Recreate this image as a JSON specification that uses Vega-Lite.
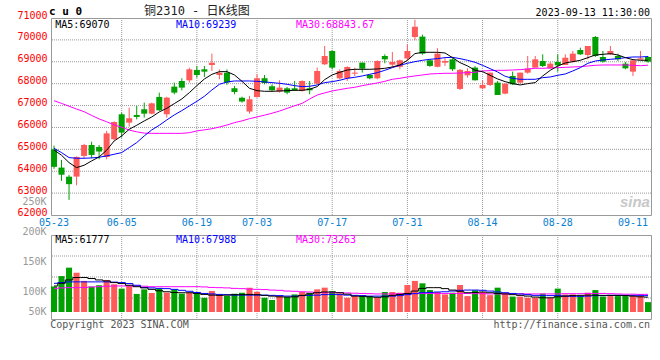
{
"$schema": "https://vega.github.io/schema/vega-lite/v6.json",
"background": "white",
"padding": {"left": 16, "top": 4, "right": 0, "bottom": 0},
"bounds": "flush",
"spacing": 20,
"resolve": {"scale": {"x": "independent", "y": "independent"}},
"config": {
  "view": {"stroke": "#999999", "strokeWidth": 1},
  "axis": {"grid": false, "ticks": false, "domain": false, "labelFont": "DejaVu Sans Mono", "labelFontSize": 10, "labelOverlap": false},
  "text": {"font": "DejaVu Sans Mono", "fontSize": 10}
},
"datasets": {
  "vgrid": [{"d": "06-05"}, {"d": "06-19"}, {"d": "07-03"}, {"d": "07-17"}, {"d": "07-31"}, {"d": "08-14"}, {"d": "08-28"}],
  "pgrid": [{"p": 63000}, {"p": 64000}, {"p": 65000}, {"p": 66000}, {"p": 67000}, {"p": 68000}, {"p": 69000}, {"p": 70000}],
  "volgrid": [{"p": 58100}, {"p": 145250}, {"p": 232400}],
  "k": [
{"d":"05-23","o":65000,"h":65170,"l":64110,"c":64200,"v":106000,"m5":64972,"m10":65048,"m30":67220,"vm5":108000,"vm10":119000,"vm30":97000},
{"d":"05-24","o":64166,"h":64516,"l":63557,"c":63840,"v":149000,"m5":64729,"m10":64851,"m30":67100,"vm5":119000,"vm10":122000,"vm30":100000},
{"d":"05-25","o":63750,"h":63831,"l":62690,"c":63410,"v":184000,"m5":64394,"m10":64622,"m30":66970,"vm5":133000,"vm10":125000,"vm30":101000},
{"d":"05-26","o":63755,"h":64680,"l":63359,"c":64653,"v":163000,"m5":64166,"m10":64592,"m30":66840,"vm5":143000,"vm10":125000,"vm30":101000},
{"d":"05-29","o":64700,"h":65250,"l":64590,"c":65200,"v":129000,"m5":64272,"m10":64592,"m30":66720,"vm5":143000,"vm10":125000,"vm30":102000},
{"d":"05-30","o":65200,"h":65350,"l":64590,"c":64745,"v":105000,"m5":64470,"m10":64607,"m30":66550,"vm5":139000,"vm10":125000,"vm30":104000},
{"d":"05-31","o":65110,"h":65200,"l":64545,"c":64900,"v":111000,"m5":64653,"m10":64638,"m30":66390,"vm5":133000,"vm10":125000,"vm30":105000},
{"d":"06-01","o":64650,"h":65840,"l":64545,"c":65730,"v":133000,"m5":64957,"m10":64698,"m30":66260,"vm5":129000,"vm10":125000,"vm30":107000},
{"d":"06-02","o":65460,"h":66280,"l":65410,"c":66250,"v":115000,"m5":65383,"m10":64774,"m30":66120,"vm5":122000,"vm10":124000,"vm30":108000},
{"d":"06-05","o":66600,"h":66680,"l":65535,"c":65765,"v":97000,"m5":65612,"m10":64851,"m30":66010,"vm5":118000,"vm10":122000,"vm30":108000},
{"d":"06-06","o":66220,"h":66905,"l":66040,"c":66420,"v":108000,"m5":65916,"m10":65079,"m30":65880,"vm5":111000,"vm10":118000,"vm30":108000},
{"d":"06-07","o":66570,"h":66980,"l":66370,"c":66480,"v":75000,"m5":66099,"m10":65307,"m30":65800,"vm5":105000,"vm10":111000,"vm30":108000},
{"d":"06-08","o":66830,"h":67135,"l":66450,"c":66630,"v":94000,"m5":66297,"m10":65612,"m30":65740,"vm5":100000,"vm10":102000,"vm30":107000},
{"d":"06-09","o":66630,"h":67135,"l":66600,"c":67100,"v":79000,"m5":66479,"m10":65886,"m30":65730,"vm5":94000,"vm10":100000,"vm30":105000},
{"d":"06-12","o":67393,"h":67591,"l":66754,"c":66784,"v":98000,"m5":66708,"m10":66100,"m30":65730,"vm5":88000,"vm10":98000,"vm30":105000},
{"d":"06-13","o":66601,"h":67400,"l":66449,"c":67362,"v":80000,"m5":66875,"m10":66342,"m30":65730,"vm5":84000,"vm10":97000,"vm30":105000},
{"d":"06-14","o":67865,"h":68047,"l":67514,"c":67590,"v":94000,"m5":67088,"m10":66571,"m30":65730,"vm5":81000,"vm10":94000,"vm30":105000},
{"d":"06-15","o":68123,"h":68245,"l":67697,"c":67819,"v":76000,"m5":67301,"m10":66769,"m30":65730,"vm5":80000,"vm10":90000,"vm30":105000},
{"d":"06-16","o":68154,"h":68732,"l":68047,"c":68656,"v":80000,"m5":67590,"m10":66982,"m30":65760,"vm5":80000,"vm10":86000,"vm30":105000},
{"d":"06-19","o":68626,"h":68808,"l":68275,"c":68397,"v":76000,"m5":67910,"m10":67195,"m30":65840,"vm5":77000,"vm10":81000,"vm30":105000},
{"d":"06-20","o":68656,"h":68808,"l":68306,"c":68549,"v":59000,"m5":68214,"m10":67423,"m30":65890,"vm5":73000,"vm10":77000,"vm30":104000},
{"d":"06-21","o":68854,"h":69371,"l":68580,"c":68960,"v":87000,"m5":68428,"m10":67712,"m30":65940,"vm5":70000,"vm10":75000,"vm30":102000},
{"d":"06-26","o":68400,"h":68650,"l":68200,"c":68500,"v":73000,"m5":68549,"m10":67971,"m30":66020,"vm5":69000,"vm10":73000,"vm30":101000},
{"d":"06-27","o":68500,"h":68650,"l":67950,"c":68050,"v":66000,"m5":68549,"m10":68077,"m30":66110,"vm5":70000,"vm10":72000,"vm30":100000},
{"d":"06-28","o":67788,"h":67895,"l":67514,"c":67621,"v":76000,"m5":68397,"m10":68123,"m30":66220,"vm5":72000,"vm10":70000,"vm30":98000},
{"d":"06-29","o":67362,"h":67408,"l":67134,"c":67180,"v":80000,"m5":68108,"m10":68123,"m30":66300,"vm5":72000,"vm10":70000,"vm30":97000},
{"d":"06-30","o":66723,"h":67438,"l":66632,"c":67286,"v":101000,"m5":67788,"m10":68123,"m30":66400,"vm5":73000,"vm10":70000,"vm30":95000},
{"d":"07-03","o":67393,"h":68428,"l":67362,"c":68245,"v":84000,"m5":67682,"m10":68108,"m30":66480,"vm5":72000,"vm10":70000,"vm30":94000},
{"d":"07-04","o":68245,"h":68397,"l":67971,"c":68032,"v":59000,"m5":67651,"m10":68077,"m30":66560,"vm5":69000,"vm10":70000,"vm30":93000},
{"d":"07-05","o":67880,"h":67971,"l":67636,"c":67697,"v":50000,"m5":67651,"m10":68047,"m30":66650,"vm5":66000,"vm10":69000,"vm30":91000},
{"d":"07-06","o":67636,"h":68154,"l":67590,"c":67819,"v":66000,"m5":67667,"m10":68016,"m30":66750,"vm5":63000,"vm10":68000,"vm30":90000},
{"d":"07-07","o":67788,"h":67849,"l":67514,"c":67590,"v":62000,"m5":67682,"m10":67971,"m30":66870,"vm5":62000,"vm10":66000,"vm30":87000},
{"d":"07-10","o":67788,"h":68123,"l":67667,"c":67697,"v":73000,"m5":67697,"m10":67910,"m30":66990,"vm5":63000,"vm10":66000,"vm30":86000},
{"d":"07-11","o":67667,"h":68154,"l":67636,"c":68123,"v":83000,"m5":67697,"m10":67865,"m30":67100,"vm5":69000,"vm10":68000,"vm30":84000},
{"d":"07-12","o":67788,"h":68123,"l":67514,"c":67697,"v":80000,"m5":67743,"m10":67880,"m30":67300,"vm5":75000,"vm10":69000,"vm30":83000},
{"d":"07-13","o":68002,"h":68732,"l":67971,"c":68580,"v":94000,"m5":67865,"m10":67941,"m30":67480,"vm5":80000,"vm10":70000,"vm30":81000},
{"d":"07-14","o":68884,"h":69722,"l":68854,"c":69265,"v":101000,"m5":68184,"m10":68047,"m30":67580,"vm5":83000,"vm10":72000,"vm30":80000},
{"d":"07-17","o":69493,"h":69523,"l":68656,"c":68732,"v":86000,"m5":68397,"m10":68093,"m30":67667,"vm5":83000,"vm10":73000,"vm30":80000},
{"d":"07-18","o":68245,"h":68656,"l":68199,"c":68580,"v":77000,"m5":68519,"m10":68154,"m30":67728,"vm5":80000,"vm10":72000,"vm30":80000},
{"d":"07-19","o":68245,"h":68793,"l":68123,"c":68762,"v":59000,"m5":68625,"m10":68245,"m30":67788,"vm5":74000,"vm10":70000,"vm30":79000},
{"d":"07-20","o":68458,"h":68732,"l":68351,"c":68504,"v":66000,"m5":68656,"m10":68291,"m30":67834,"vm5":66000,"vm10":69000,"vm30":78000},
{"d":"07-21","o":68960,"h":68960,"l":68504,"c":68686,"v":66000,"m5":68656,"m10":68352,"m30":67910,"vm5":65000,"vm10":68000,"vm30":77000},
{"d":"07-24","o":68397,"h":68420,"l":68200,"c":68245,"v":66000,"m5":68656,"m10":68428,"m30":67971,"vm5":63000,"vm10":66000,"vm30":76000},
{"d":"07-25","o":68245,"h":69067,"l":68199,"c":69036,"v":59000,"m5":68671,"m10":68504,"m30":68032,"vm5":61000,"vm10":66000,"vm30":75000},
{"d":"07-26","o":69265,"h":69341,"l":68930,"c":69112,"v":83000,"m5":68701,"m10":68610,"m30":68108,"vm5":63000,"vm10":66000,"vm30":75000},
{"d":"07-27","o":68870,"h":69450,"l":68770,"c":68990,"v":83000,"m5":68763,"m10":68733,"m30":68200,"vm5":69000,"vm10":66000,"vm30":75000},
{"d":"07-28","o":68770,"h":69100,"l":68656,"c":69067,"v":80000,"m5":68854,"m10":68839,"m30":68246,"vm5":73000,"vm10":68000,"vm30":76000},
{"d":"07-31","o":69150,"h":69797,"l":69067,"c":69493,"v":112000,"m5":69067,"m10":68930,"m30":68306,"vm5":77000,"vm10":72000,"vm30":76000},
{"d":"08-01","o":70133,"h":70920,"l":69980,"c":70600,"v":129000,"m5":69372,"m10":69006,"m30":68352,"vm5":87000,"vm10":76000,"vm30":77000},
{"d":"08-02","o":70150,"h":70240,"l":69320,"c":69372,"v":119000,"m5":69433,"m10":69067,"m30":68398,"vm5":98000,"vm10":80000,"vm30":77000},
{"d":"08-03","o":69067,"h":69100,"l":68770,"c":68809,"v":91000,"m5":69433,"m10":69113,"m30":68443,"vm5":101000,"vm10":81000,"vm30":77000},
{"d":"08-04","o":68770,"h":69620,"l":68750,"c":69372,"v":83000,"m5":69433,"m10":69143,"m30":68459,"vm5":101000,"vm10":83000,"vm30":77000},
{"d":"08-07","o":68960,"h":69160,"l":68810,"c":69037,"v":73000,"m5":69402,"m10":69189,"m30":68474,"vm5":97000,"vm10":84000,"vm30":77000},
{"d":"08-08","o":69112,"h":69160,"l":68580,"c":68657,"v":80000,"m5":69189,"m10":69204,"m30":68474,"vm5":91000,"vm10":87000,"vm30":77000},
{"d":"08-09","o":67760,"h":68670,"l":67710,"c":68630,"v":112000,"m5":68961,"m10":69143,"m30":68489,"vm5":86000,"vm10":90000,"vm30":77000},
{"d":"08-10","o":68383,"h":68700,"l":68276,"c":68580,"v":66000,"m5":68809,"m10":69067,"m30":68504,"vm5":80000,"vm10":91000,"vm30":77000},
{"d":"08-11","o":68733,"h":68800,"l":68140,"c":68155,"v":90000,"m5":68611,"m10":68976,"m30":68520,"vm5":81000,"vm10":91000,"vm30":76000},
{"d":"08-14","o":67788,"h":68154,"l":67743,"c":67941,"v":83000,"m5":68549,"m10":68838,"m30":68580,"vm5":83000,"vm10":90000,"vm30":76000},
{"d":"08-15","o":67941,"h":68504,"l":67895,"c":68504,"v":70000,"m5":68382,"m10":68686,"m30":68595,"vm5":80000,"vm10":87000,"vm30":75000},
{"d":"08-16","o":68047,"h":68123,"l":67484,"c":67484,"v":101000,"m5":68215,"m10":68534,"m30":68610,"vm5":77000,"vm10":83000,"vm30":75000},
{"d":"08-17","o":67545,"h":68002,"l":67514,"c":68002,"v":80000,"m5":68093,"m10":68336,"m30":68610,"vm5":75000,"vm10":80000,"vm30":75000},
{"d":"08-18","o":68351,"h":68550,"l":67941,"c":67971,"v":64000,"m5":68002,"m10":68245,"m30":68625,"vm5":72000,"vm10":77000,"vm30":75000},
{"d":"08-21","o":68047,"h":68504,"l":67998,"c":68504,"v":64000,"m5":67941,"m10":68199,"m30":68641,"vm5":69000,"vm10":75000,"vm30":75000},
{"d":"08-22","o":68504,"h":69265,"l":68458,"c":68686,"v":59000,"m5":68002,"m10":68199,"m30":68671,"vm5":66000,"vm10":72000,"vm30":75000},
{"d":"08-23","o":68732,"h":69265,"l":68732,"c":69112,"v":59000,"m5":68047,"m10":68199,"m30":68701,"vm5":62000,"vm10":69000,"vm30":75000},
{"d":"08-24","o":69036,"h":69341,"l":68762,"c":68808,"v":76000,"m5":68351,"m10":68275,"m30":68701,"vm5":59000,"vm10":68000,"vm30":75000},
{"d":"08-25","o":68701,"h":68990,"l":68701,"c":68914,"v":59000,"m5":68610,"m10":68306,"m30":68717,"vm5":59000,"vm10":68000,"vm30":75000},
{"d":"08-28","o":68991,"h":69341,"l":68549,"c":68838,"v":97000,"m5":68808,"m10":68382,"m30":68732,"vm5":63000,"vm10":68000,"vm30":75000},
{"d":"08-29","o":68854,"h":69341,"l":68854,"c":69188,"v":73000,"m5":68945,"m10":68443,"m30":68747,"vm5":66000,"vm10":66000,"vm30":76000},
{"d":"08-30","o":69006,"h":69493,"l":68960,"c":69371,"v":73000,"m5":69006,"m10":68580,"m30":68762,"vm5":68000,"vm10":65000,"vm30":76000},
{"d":"08-31","o":69539,"h":69645,"l":69310,"c":69341,"v":66000,"m5":69067,"m10":68732,"m30":68778,"vm5":69000,"vm10":65000,"vm30":76000},
{"d":"09-01","o":69310,"h":69721,"l":69113,"c":69721,"v":80000,"m5":69189,"m10":68930,"m30":68808,"vm5":70000,"vm10":66000,"vm30":77000},
{"d":"09-04","o":70132,"h":70178,"l":69219,"c":69265,"v":91000,"m5":69310,"m10":69036,"m30":68839,"vm5":70000,"vm10":68000,"vm30":77000},
{"d":"09-05","o":69219,"h":69493,"l":68960,"c":69006,"v":64000,"m5":69341,"m10":69082,"m30":68854,"vm5":69000,"vm10":68000,"vm30":77000},
{"d":"09-06","o":69341,"h":69721,"l":69310,"c":69493,"v":66000,"m5":69371,"m10":69113,"m30":68854,"vm5":69000,"vm10":69000,"vm30":76000},
{"d":"09-07","o":69265,"h":69371,"l":69036,"c":69113,"v":66000,"m5":69310,"m10":69143,"m30":68854,"vm5":69000,"vm10":69000,"vm30":75000},
{"d":"09-08","o":68914,"h":68990,"l":68656,"c":68701,"v":66000,"m5":69189,"m10":69189,"m30":68854,"vm5":68000,"vm10":69000,"vm30":74000},
{"d":"09-11","o":68549,"h":69067,"l":68351,"c":69067,"v":66000,"m5":69097,"m10":69219,"m30":68839,"vm5":66000,"vm10":69000,"vm30":74000},
{"d":"09-12","o":69097,"h":69493,"l":69097,"c":69158,"v":66000,"m5":69067,"m10":69219,"m30":68820,"vm5":63000,"vm10":69000,"vm30":73000},
{"d":"09-13","o":69219,"h":69265,"l":68960,"c":69006,"v":41000,"m5":69070,"m10":69239,"m30":68844,"vm5":61777,"vm10":67988,"vm30":73263}
  ]
},
"vconcat": [
{
  "width": 600, "height": 197,
  "data": {"name": "k"},
  "layer": [
    {
      "data": {"name": "pgrid"},
      "mark": {"type": "rule", "color": "#999999", "strokeWidth": 1, "strokeDash": [1, 1]},
      "encoding": {"y": {"field": "p", "type": "quantitative", "scale": {"domain": [62000, 71000], "nice": false, "zero": false},
        "axis": {"title": null, "values": [62000, 63000, 64000, 65000, 66000, 67000, 68000, 69000, 70000, 71000], "tickCount": 12, "format": "d", "labelOverlap": false, "labelColor": "#ff0000", "labelBaseline": "alphabetic", "labelPadding": 4}}}
    },
    {
      "data": {"name": "vgrid"},
      "mark": {"type": "rule", "color": "#999999", "strokeWidth": 1, "strokeDash": [1, 1]},
      "encoding": {"x": {"field": "d", "type": "ordinal", "scale": {"type": "band", "paddingInner": 0.2, "paddingOuter": 0},
        "axis": {"title": null, "values": ["05-23", "06-05", "06-19", "07-03", "07-17", "07-31", "08-14", "08-28", "09-11"], "labelAngle": 0, "labelOverlap": false, "labelColor": "#0a80d0", "labelPadding": 2}}}
    },
    {
      "mark": {"type": "rule", "strokeWidth": 1},
      "encoding": {
        "x": {"field": "d", "type": "ordinal"},
        "y": {"field": "l", "type": "quantitative"},
        "y2": {"field": "h"},
        "color": {"condition": {"test": "datum.c >= datum.o", "value": "#ff5a5a"}, "value": "#00a000"}
      }
    },
    {
      "mark": {"type": "bar"},
      "encoding": {
        "x": {"field": "d", "type": "ordinal"},
        "y": {"field": "o", "type": "quantitative"},
        "y2": {"field": "c"},
        "color": {"condition": {"test": "datum.c >= datum.o", "value": "#ff5a5a"}, "value": "#00a000"}
      }
    },
    {
      "mark": {"type": "line", "color": "#ff00ff", "strokeWidth": 1},
      "encoding": {"x": {"field": "d", "type": "ordinal"}, "y": {"field": "m30", "type": "quantitative"}}
    },
    {
      "mark": {"type": "line", "color": "#0000ff", "strokeWidth": 1},
      "encoding": {"x": {"field": "d", "type": "ordinal"}, "y": {"field": "m10", "type": "quantitative"}}
    },
    {
      "mark": {"type": "line", "color": "#000000", "strokeWidth": 1},
      "encoding": {"x": {"field": "d", "type": "ordinal"}, "y": {"field": "m5", "type": "quantitative"}}
    },
    {
      "data": {"values": [{}]},
      "mark": {"type": "text", "align": "left", "baseline": "middle", "dx": -5, "fontSize": 11, "fontWeight": "bold", "color": "#000000"},
      "encoding": {"x": {"datum": "05-23", "type": "ordinal"}, "y": {"datum": 71274, "type": "quantitative"}, "text": {"value": "c u 0"}}
    },
    {
      "data": {"values": [{}]},
      "mark": {"type": "text", "align": "center", "baseline": "middle", "fontSize": 12, "font": "DejaVu Sans Mono, Noto Sans CJK SC", "color": "#222222"},
      "encoding": {"x": {"datum": "06-19", "type": "ordinal"}, "y": {"datum": 71320, "type": "quantitative"}, "text": {"value": "铜2310 - 日K线图"}}
    },
    {
      "data": {"values": [{}]},
      "mark": {"type": "text", "align": "right", "baseline": "middle", "dx": 2, "fontSize": 10, "color": "#000000"},
      "encoding": {"x": {"datum": "09-13", "type": "ordinal"}, "y": {"datum": 71228, "type": "quantitative"}, "text": {"value": "2023-09-13 11:30:00"}}
    },
    {
      "data": {"values": [{}]},
      "mark": {"type": "text", "align": "left", "baseline": "middle", "dx": 1.3, "fontSize": 10, "color": "#000000"},
      "encoding": {"x": {"datum": "05-23", "type": "ordinal"}, "y": {"datum": 70680, "type": "quantitative"}, "text": {"value": "MA5:69070"}}
    },
    {
      "data": {"values": [{}]},
      "mark": {"type": "text", "align": "left", "baseline": "middle", "dx": 1.7, "fontSize": 10, "color": "#0000ff"},
      "encoding": {"x": {"datum": "06-14", "type": "ordinal"}, "y": {"datum": 70680, "type": "quantitative"}, "text": {"value": "MA10:69239"}}
    },
    {
      "data": {"values": [{}]},
      "mark": {"type": "text", "align": "left", "baseline": "middle", "dx": 1.3, "fontSize": 10, "color": "#ff00ff"},
      "encoding": {"x": {"datum": "07-10", "type": "ordinal"}, "y": {"datum": 70680, "type": "quantitative"}, "text": {"value": "MA30:68843.67"}}
    },
    {
      "data": {"values": [{}]},
      "mark": {"type": "text", "align": "left", "baseline": "alphabetic", "dx": 2, "fontSize": 15, "font": "Liberation Sans", "fontStyle": "italic", "fontWeight": "bold", "color": "#c8c8c8"},
      "encoding": {"x": {"datum": "09-07", "type": "ordinal"}, "y": {"datum": 62370, "type": "quantitative"}, "text": {"value": "sina"}}
    }
  ]
},
{
  "width": 600, "height": 84,
  "data": {"name": "k"},
  "layer": [
    {
      "data": {"name": "volgrid"},
      "mark": {"type": "rule", "color": "#999999", "strokeWidth": 1, "strokeDash": [1, 1]},
      "encoding": {"y": {"field": "p", "type": "quantitative", "scale": {"domain": [-29050, 319550], "nice": false, "zero": false}, "axis": null}}
    },
    {
      "data": {"name": "vgrid"},
      "mark": {"type": "rule", "color": "#999999", "strokeWidth": 1, "strokeDash": [1, 1]},
      "encoding": {"x": {"field": "d", "type": "ordinal", "scale": {"type": "band", "paddingInner": 0.2, "paddingOuter": 0}, "axis": null}}
    },
    {
      "mark": {"type": "bar"},
      "encoding": {
        "x": {"field": "d", "type": "ordinal", "axis": null},
        "y": {"field": "v", "type": "quantitative", "axis": null},
        "y2": {"datum": 0},
        "color": {"condition": {"test": "datum.c >= datum.o", "value": "#ff5a5a"}, "value": "#00a000"}
      }
    },
    {
      "mark": {"type": "line", "color": "#ff00ff", "strokeWidth": 1, "interpolate": "step"},
      "encoding": {"x": {"field": "d", "type": "ordinal", "axis": null}, "y": {"field": "vm30", "type": "quantitative", "axis": null}}
    },
    {
      "mark": {"type": "line", "color": "#0000ff", "strokeWidth": 1, "interpolate": "step"},
      "encoding": {"x": {"field": "d", "type": "ordinal", "axis": null}, "y": {"field": "vm10", "type": "quantitative", "axis": null}}
    },
    {
      "mark": {"type": "line", "color": "#000000", "strokeWidth": 1, "interpolate": "step"},
      "encoding": {"x": {"field": "d", "type": "ordinal", "axis": null}, "y": {"field": "vm5", "type": "quantitative", "axis": null}}
    },
    {
      "data": {"values": [{}]},
      "mark": {"type": "text", "align": "left", "baseline": "middle", "dx": 1.3, "fontSize": 10, "color": "#000000"},
      "encoding": {"x": {"datum": "05-23", "type": "ordinal", "axis": null}, "y": {"datum": 298800, "type": "quantitative", "axis": null}, "text": {"value": "MA5:61777"}}
    },
    {
      "data": {"values": [{}]},
      "mark": {"type": "text", "align": "left", "baseline": "middle", "dx": 1.7, "fontSize": 10, "color": "#0000ff"},
      "encoding": {"x": {"datum": "06-14", "type": "ordinal", "axis": null}, "y": {"datum": 298800, "type": "quantitative", "axis": null}, "text": {"value": "MA10:67988"}}
    },
    {
      "data": {"values": [{}]},
      "mark": {"type": "text", "align": "left", "baseline": "middle", "dx": 1.3, "fontSize": 10, "color": "#ff00ff"},
      "encoding": {"x": {"datum": "07-10", "type": "ordinal", "axis": null}, "y": {"datum": 298800, "type": "quantitative", "axis": null}, "text": {"value": "MA30:73263"}}
    },
    {
      "data": {"values": [{}]},
      "mark": {"type": "text", "align": "right", "baseline": "middle", "dx": -7.5, "fontSize": 10, "color": "#999999"},
      "encoding": {"x": {"datum": "05-23", "type": "ordinal", "axis": null}, "y": {"datum": 456000, "type": "quantitative", "axis": null}, "text": {"value": "250K"}}
    },
    {
      "data": {"values": [{}]},
      "mark": {"type": "text", "align": "right", "baseline": "middle", "dx": -7.5, "fontSize": 10, "color": "#999999"},
      "encoding": {"x": {"datum": "05-23", "type": "ordinal", "axis": null}, "y": {"datum": 332000, "type": "quantitative", "axis": null}, "text": {"value": "200K"}}
    },
    {
      "data": {"values": [{}]},
      "mark": {"type": "text", "align": "right", "baseline": "middle", "dx": -7.5, "fontSize": 10, "color": "#999999"},
      "encoding": {"x": {"datum": "05-23", "type": "ordinal", "axis": null}, "y": {"datum": 207500, "type": "quantitative", "axis": null}, "text": {"value": "150K"}}
    },
    {
      "data": {"values": [{}]},
      "mark": {"type": "text", "align": "right", "baseline": "middle", "dx": -7.5, "fontSize": 10, "color": "#999999"},
      "encoding": {"x": {"datum": "05-23", "type": "ordinal", "axis": null}, "y": {"datum": 85000, "type": "quantitative", "axis": null}, "text": {"value": "100K"}}
    },
    {
      "data": {"values": [{}]},
      "mark": {"type": "text", "align": "right", "baseline": "middle", "dx": -7.5, "fontSize": 10, "color": "#999999"},
      "encoding": {"x": {"datum": "05-23", "type": "ordinal", "axis": null}, "y": {"datum": 0, "type": "quantitative", "axis": null}, "text": {"value": "50K"}}
    },
    {
      "data": {"values": [{}]},
      "mark": {"type": "text", "align": "left", "baseline": "middle", "dx": -3.8, "fontSize": 10, "color": "#555555"},
      "encoding": {"x": {"datum": "05-23", "type": "ordinal", "axis": null}, "y": {"datum": -53950, "type": "quantitative", "axis": null}, "text": {"value": "Copyright 2023 SINA.COM"}}
    },
    {
      "data": {"values": [{}]},
      "mark": {"type": "text", "align": "right", "baseline": "middle", "dx": 2, "fontSize": 10, "color": "#555555"},
      "encoding": {"x": {"datum": "09-13", "type": "ordinal", "axis": null}, "y": {"datum": -53950, "type": "quantitative", "axis": null}, "text": {"value": "http://finance.sina.com.cn"}}
    }
  ]
}
]
}
